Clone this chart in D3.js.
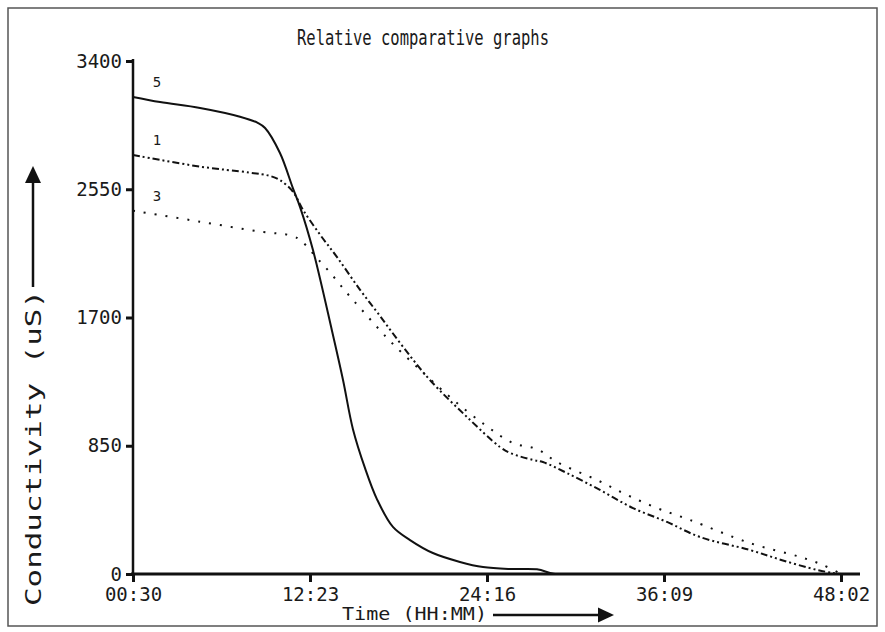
<!DOCTYPE html>
<html>
<head>
<meta charset="utf-8">
<script src="https://cdn.jsdelivr.net/npm/d3@7"></script>
<style>
  body { margin: 0; background: #fff; }
  text { font-family: "DejaVu Sans Mono", monospace; fill: #1a1a1a; }
</style>
</head>
<body>
<script>
// Axis ticks (time in minutes, conductivity in uS)
const timeTicks = [30, 743, 1456, 2169, 2882];
const condTicks = [0, 850, 1700, 2550, 3400];

// Curve 5 (solid)
const s5Time = [30, 139, 300, 461, 534, 562, 622, 674, 703, 755, 832, 876, 916, 965, 1013, 1077, 1146, 1238, 1347, 1440, 1549, 1657, 1710, 1730];
const s5Cond = [3162, 3128, 3089, 3031, 2989, 2956, 2790, 2558, 2432, 2147, 1609, 1286, 960, 700, 495, 312, 225, 139, 80, 46, 33, 31, 7, 0];

// Curve 1 (dash-dot-dot)
const s1Time = [30, 300, 501, 582, 622, 674, 715, 783, 852, 944, 1025, 1118, 1226, 1375, 1508, 1549, 1641, 1681, 1778, 1911, 2044, 2181, 2314, 2515, 2648, 2785, 2850, 2882];
const s1Cond = [2777, 2700, 2660, 2638, 2611, 2534, 2413, 2250, 2100, 1885, 1710, 1505, 1286, 1041, 842, 802, 756, 742, 669, 557, 437, 345, 245, 159, 90, 27, 7, 0];

// Curve 3 (dotted)
const s3Time = [30, 300, 542, 674, 711, 771, 832, 892, 952, 1013, 1073, 1174, 1307, 1448, 1561, 1657, 1738, 1899, 2020, 2141, 2274, 2515, 2717, 2809, 2882];
const s3Cond = [2408, 2335, 2269, 2240, 2203, 2094, 1982, 1862, 1750, 1637, 1531, 1372, 1173, 988, 868, 828, 742, 623, 524, 437, 358, 205, 113, 60, 0];

const width = 885, height = 632;
const margin = { top: 61, right: 44, bottom: 58, left: 133 };

const svg = d3.select("body").append("svg")
  .attr("width", width)
  .attr("height", height);

// outer frame
svg.append("rect")
  .attr("x", 8).attr("y", 8)
  .attr("width", width - 16).attr("height", height - 14)
  .attr("fill", "none")
  .attr("stroke", "#555")
  .attr("stroke-width", 1.5);

const x = d3.scaleLinear().domain([30, 2882]).range([margin.left, width - margin.right]);
const y = d3.scaleLinear().domain([0, 3400]).range([height - margin.bottom, margin.top]);

const fmtTime = (m) => String(Math.floor(m / 60)).padStart(2, "0") + ":" + String(m % 60).padStart(2, "0");

// x axis
const xAxis = svg.append("g")
  .attr("transform", `translate(0,${y(0)})`)
  .call(d3.axisBottom(x).tickValues(timeTicks).tickFormat(fmtTime).tickSize(8).tickPadding(6).tickSizeOuter(0));
xAxis.select(".domain").remove();
xAxis.selectAll(".tick line").attr("stroke", "#111").attr("stroke-width", 3);
xAxis.selectAll(".tick text").style("font-size", "19px").attr("fill", "#222");
xAxis.append("line")
  .attr("x1", x(30) - 2).attr("x2", x(2882) + 19)
  .attr("stroke", "#111").attr("stroke-width", 3);

// y axis
const yAxis = svg.append("g")
  .attr("transform", `translate(${x(30)},0)`)
  .call(d3.axisLeft(y).tickValues(condTicks).tickFormat(d3.format("d")).tickSize(7).tickPadding(4).tickSizeOuter(0));
yAxis.select(".domain").remove();
yAxis.selectAll(".tick line").attr("stroke", "#111").attr("stroke-width", 3);
yAxis.selectAll(".tick text").style("font-size", "19px").attr("fill", "#222");
yAxis.append("line")
  .attr("y1", y(3400) - 2).attr("y2", y(0) + 2)
  .attr("stroke", "#111").attr("stroke-width", 2.5);

// curves
const line = d3.line()
  .x((d) => x(d[0]))
  .y((d) => y(d[1]))
  .curve(d3.curveCatmullRom.alpha(0.5));

const series = [
  { name: "5", time: s5Time, cond: s5Cond, dash: null },
  { name: "1", time: s1Time, cond: s1Cond, dash: "7,3,2,3,2,3" },
  { name: "3", time: s3Time, cond: s3Cond, dash: "2,9" },
];

series.forEach((s) => {
  const pts = s.time.map((t, i) => [t, s.cond[i]]);
  svg.append("path")
    .datum(pts)
    .attr("d", line)
    .attr("fill", "none")
    .attr("stroke", "#111")
    .attr("stroke-width", 2)
    .attr("stroke-dasharray", s.dash);

  // small number above the start of each curve
  svg.append("text")
    .attr("x", x(s.time[0]) + 24)
    .attr("y", y(s.cond[0]) - 10)
    .attr("text-anchor", "middle")
    .style("font-size", "14px")
    .text(s.name);
});

// title
svg.append("text")
  .attr("x", 423).attr("y", 45)
  .attr("text-anchor", "middle")
  .attr("textLength", 252)
  .attr("lengthAdjust", "spacingAndGlyphs")
  .style("font-size", "21px")
  .text("Relative comparative graphs");

// x axis title + arrow
svg.append("text")
  .attr("x", 342).attr("y", 620)
  .attr("textLength", 145)
  .attr("lengthAdjust", "spacingAndGlyphs")
  .style("font-size", "17px")
  .text("Time (HH:MM)");
svg.append("line")
  .attr("x1", 493).attr("x2", 600).attr("y1", 615).attr("y2", 615)
  .attr("stroke", "#111").attr("stroke-width", 2.5);
svg.append("path")
  .attr("d", "M598,607.5L614,615L598,622.5Z")
  .attr("fill", "#111");

// y axis title + arrow
svg.append("text")
  .attr("transform", "translate(41,606) rotate(-90)")
  .attr("textLength", 316)
  .attr("lengthAdjust", "spacingAndGlyphs")
  .style("font-size", "22px")
  .text("Conductivity (uS)");
svg.append("line")
  .attr("x1", 33).attr("x2", 33).attr("y1", 287).attr("y2", 180)
  .attr("stroke", "#111").attr("stroke-width", 2.5);
svg.append("path")
  .attr("d", "M25,183L33,166L41,183Z")
  .attr("fill", "#111");
</script>
</body>
</html>
